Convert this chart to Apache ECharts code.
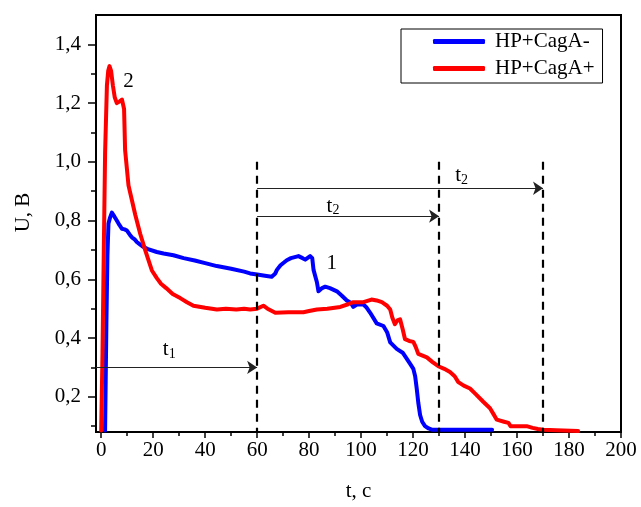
<!DOCTYPE html>
<html>
<head>
<meta charset="utf-8">
<script src="https://cdn.jsdelivr.net/npm/echarts@6/dist/echarts.min.js"></script>
<style>
  html, body {margin: 0; padding: 0; background: #fff;}
  #chart {width: 641px; height: 507px;}
</style>
</head>
<body>
<div id="chart"></div>
<script>
// curve 1 : HP+CagA-  [t, U]
const hpCagANeg = [
  [1.5,0.085],[2.0,0.45],[2.4,0.68],[2.8,0.79],[3.4,0.81],[4.1,0.827],[5,0.815],[6,0.8],
  [7,0.785],[8,0.772],[9,0.77],[9.9,0.766],[11,0.752],[11.8,0.743],[13,0.735],[13.7,0.727],
  [15,0.718],[16.3,0.71],[18,0.703],[21.4,0.693],[24,0.688],[27.8,0.682],[31.7,0.672],
  [36,0.664],[40,0.655],[44.5,0.645],[50,0.636],[55,0.626],[57.3,0.62],[60,0.616],
  [63,0.612],[65.6,0.609],[67,0.62],[67.6,0.632],[69,0.648],[71.4,0.665],[73,0.672],
  [75.9,0.679],[77.5,0.672],[78.5,0.667],[80.4,0.679],[81.2,0.672],[81.7,0.632],[83,0.59],
  [83.6,0.559],[85,0.57],[86.2,0.575],[88,0.57],[90.7,0.559],[92.5,0.545],[94.5,0.528],
  [96,0.52],[97,0.506],[98.5,0.515],[100.9,0.514],[102,0.505],[103.5,0.486],[106,0.45],
  [108.6,0.441],[110,0.42],[111.2,0.385],[113.7,0.363],[116,0.35],[117.6,0.329],[119,0.31],
  [120.1,0.295],[120.8,0.27],[121.4,0.228],[122,0.18],[122.7,0.138],[123.5,0.115],
  [124.6,0.1],[126,0.092],[127.2,0.088],[135,0.088],[150.4,0.088]
];
// curve 2 : HP+CagA+  [t, U]
const hpCagAPos = [
  [0,0.085],[0.5,0.35],[1,0.7],[1.5,1.03],[2.2,1.26],[2.7,1.31],[3.2,1.326],[3.8,1.31],
  [4.5,1.26],[5.2,1.22],[6,1.2],[7,1.205],[8,1.212],[8.8,1.18],[9.2,1.04],[10.5,0.92],
  [11.8,0.87],[13.1,0.82],[15,0.755],[16.9,0.70],[18,0.67],[19.5,0.63],
  [21.4,0.604],[23,0.585],[25,0.57],[27.5,0.55],[30.4,0.536],
  [33,0.522],[35.5,0.51],[40,0.503],[44.5,0.497],[48,0.5],[52,0.497],[55,0.5],[57.3,0.497],
  [60,0.5],[62.4,0.51],[64,0.5],[67,0.486],[72,0.488],[77.8,0.488],[80,0.492],[83,0.497],
  [87,0.5],[92,0.506],[95,0.515],[97,0.522],[100.9,0.522],[104,0.531],[106,0.528],[108,0.522],
  [110,0.51],[111.2,0.497],[112,0.47],[113,0.447],[114,0.46],[115,0.464],[116,0.43],
  [116.9,0.396],[118.5,0.39],[120.1,0.387],[121,0.37],[122,0.346],[125.3,0.334],[127.5,0.318],
  [129.7,0.304],[132,0.295],[134.2,0.284],[136,0.27],[137.4,0.25],[139.5,0.238],[141.9,0.228],
  [144,0.21],[147,0.183],[149.6,0.161],[151,0.14],[152.2,0.122],[155,0.115],[156.7,0.111],
  [157.5,0.1],[160,0.1],[163.7,0.1],[166,0.094],[168,0.09],[170.1,0.088],[175,0.086],[183.5,0.083]
];
const seriesNames = ["HP+CagA-", "HP+CagA+"];

// axes
const xMin = -2, xMax = 200;
const yMin = 0.08, yMax = 1.5;
const xTicks = [0,20,40,60,80,100,120,140,160,180,200];
const xMinorTicks = [10,30,50,70,90,110,130,150,170,190];
const yTicks = [0.2,0.4,0.6,0.8,1.0,1.2,1.4];
const yMinorTicks = [0.1,0.3,0.5,0.7,0.9,1.1,1.3];

// annotations: dashed time marks and arrows
const timeMarks = [60, 130, 170];
const timeMarkTop = 1.0;
const arrows = [ // [from t, to t, at U]
  [xMin, 60, 0.3],
  [60, 170, 0.91],
  [60, 130, 0.815]
];
const notes = [ // [text, sub, t, U]
  ["t", "1", 26.2, 0.361],
  ["t", "2", 89.2, 0.851],
  ["t", "2", 138.7, 0.955],
  ["1", "", 88.7, 0.654],
  ["2", "", 10.5, 1.276]
];

const FONT = "Liberation Serif";
const FS = 21;
const chart = echarts.init(document.getElementById("chart"), null, {renderer: "canvas"});

function fmt(v) { return v.toFixed(1).replace(".", ","); }

const markLines = timeMarks.map(function (t) {
  return [{coord: [t, timeMarkTop], symbol: "none"},
          {coord: [t, yMin], symbol: "none",
           lineStyle: {type: [8, 6], width: 2.2, color: "#000"}}];
}).concat(arrows.map(function (a) {
  return [{coord: [a[0], a[2]], symbol: "none"},
          {coord: [a[1], a[2]], symbol: "arrow", symbolSize: 10,
           lineStyle: {type: "solid", width: 1, color: "#222"}}];
}));

const markPoints = notes.map(function (n) {
  return {
    coord: [n[2], n[3]],
    symbolSize: 0,
    label: {
      show: true, position: "inside",
      formatter: n[1] ? "{a|" + n[0] + "}{b|" + n[1] + "}" : "{a|" + n[0] + "}"
    }
  };
});

const option = {
  animation: false,
  backgroundColor: "#fff",
  textStyle: {fontFamily: FONT, color: "#000"},
  grid: {left: 96, right: 20, top: 15, bottom: 70, show: true,
         borderColor: "#000", borderWidth: 2, backgroundColor: "transparent"},
  legend: {
    orient: "vertical",
    left: 401, top: 29,
    padding: [2, 8, 4, 32],
    itemGap: 6,
    itemWidth: 52, itemHeight: 5,
    icon: "roundRect",
    borderColor: "#000", borderWidth: 1,
    backgroundColor: "#fff",
    textStyle: {fontFamily: FONT, fontSize: FS, color: "#000", padding: [0, 0, 0, 5]},
    data: seriesNames
  },
  xAxis: [{
    type: "value", min: xMin, max: xMax,
    name: "t, с", nameLocation: "middle", nameGap: 49,
    nameTextStyle: {fontFamily: FONT, fontSize: FS, color: "#000"},
    axisLine: {onZero: false, lineStyle: {color: "#000", width: 2}},
    axisTick: {show: true, inside: false, length: 6, customValues: xTicks,
               lineStyle: {color: "#000", width: 1.5}},
    axisLabel: {customValues: xTicks, margin: 8, fontFamily: FONT, fontSize: FS, color: "#000"},
    splitLine: {show: false}
  }, {
    type: "value", min: xMin, max: xMax, position: "bottom",
    axisLine: {show: false, onZero: false},
    axisTick: {show: true, inside: false, length: 4, customValues: xMinorTicks,
               lineStyle: {color: "#000", width: 1.5}},
    axisLabel: {show: false},
    splitLine: {show: false}
  }],
  yAxis: [{
    type: "value", min: yMin, max: yMax,
    name: "U, В", nameLocation: "middle", nameGap: 62,
    nameTextStyle: {fontFamily: FONT, fontSize: FS, color: "#000", padding: [0, 0, 0, 22]},
    axisLine: {show: true, onZero: false, lineStyle: {color: "#000", width: 2}},
    axisTick: {show: true, inside: false, length: 8, customValues: yTicks,
               lineStyle: {color: "#000", width: 1.5}},
    axisLabel: {customValues: yTicks, margin: 15, fontFamily: FONT, fontSize: FS, color: "#000",
                formatter: fmt},
    splitLine: {show: false}
  }, {
    type: "value", min: yMin, max: yMax, position: "left",
    axisLine: {show: false, onZero: false},
    axisTick: {show: true, inside: false, length: 5, customValues: yMinorTicks,
               lineStyle: {color: "#000", width: 1.5}},
    axisLabel: {show: false},
    splitLine: {show: false}
  }],
  series: [{
    name: seriesNames[0], type: "line", data: hpCagANeg,
    showSymbol: false, symbol: "none", silent: true,
    lineStyle: {color: "#0000ff", width: 4, cap: "round", join: "round"},
    itemStyle: {color: "#0000ff"}
  }, {
    name: seriesNames[1], type: "line", data: hpCagAPos,
    showSymbol: false, symbol: "none", silent: true,
    lineStyle: {color: "#ff0000", width: 4, cap: "round", join: "round"},
    itemStyle: {color: "#ff0000"}
  }, {
    name: "marks", type: "line", data: [], silent: true, z: 5,
    markLine: {
      silent: true, animation: false,
      label: {show: false},
      lineStyle: {color: "#000", type: [8, 6], width: 2.2},
      emphasis: {disabled: true},
      data: markLines
    },
    markPoint: {
      silent: true, animation: false,
      symbol: "circle",
      label: {
        color: "#000",
        rich: {
          a: {fontFamily: FONT, fontSize: FS, lineHeight: 20, color: "#000", verticalAlign: "top"},
          b: {fontFamily: FONT, fontSize: 14, lineHeight: 14, color: "#000",
              padding: [8, 0, 0, 0], verticalAlign: "top"}
        }
      },
      data: markPoints
    }
  }]
};

chart.setOption(option);
</script>
</body>
</html>
